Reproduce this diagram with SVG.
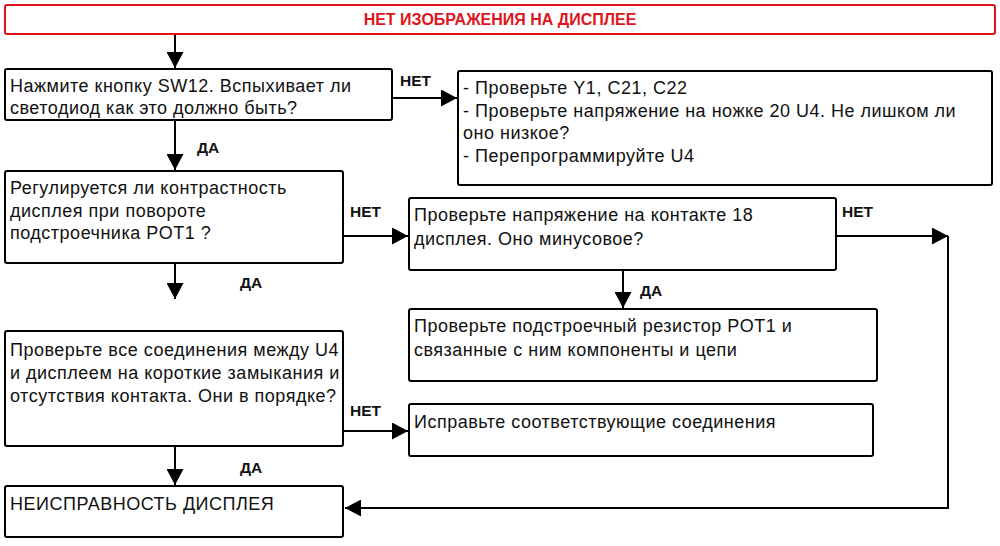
<svg xmlns="http://www.w3.org/2000/svg" width="1000" height="546" viewBox="0 0 1000 546">
<style>
.box{fill:#fff;stroke:#000;stroke-width:2}
.t{font-family:"Liberation Sans",Arial,sans-serif;font-size:18px;letter-spacing:0.5px;fill:#111}
.lbl{font-family:"Liberation Sans",Arial,sans-serif;font-size:15.5px;font-weight:bold;fill:#111}
.c{stroke:#000;stroke-width:2;fill:none}
</style>
<defs>
<marker id="ah" viewBox="0 0 16 17" refX="16" refY="8.5" markerWidth="16" markerHeight="17" markerUnits="userSpaceOnUse" orient="auto">
<path d="M0,0 L16,8.5 L0,17 z" fill="#000"/>
</marker>
</defs>
<rect width="1000" height="546" fill="#fff"/>
<g id="connectors">
<line class="c" x1="175" y1="35" x2="175" y2="68" marker-end="url(#ah)"/>
<line class="c" x1="392" y1="98" x2="457" y2="98" marker-end="url(#ah)"/>
<line class="c" x1="175" y1="120" x2="175" y2="170" marker-end="url(#ah)"/>
<line class="c" x1="343" y1="236" x2="408" y2="236" marker-end="url(#ah)"/>
<line class="c" x1="836" y1="236" x2="948" y2="236" marker-end="url(#ah)"/>
<polyline class="c" points="948,236 948,508 345,508" marker-end="url(#ah)"/>
<line class="c" x1="175" y1="263" x2="175" y2="299" marker-end="url(#ah)"/>
<line class="c" x1="623" y1="270" x2="623" y2="308" marker-end="url(#ah)"/>
<line class="c" x1="343" y1="431" x2="408" y2="431" marker-end="url(#ah)"/>
<line class="c" x1="175" y1="446" x2="175" y2="485" marker-end="url(#ah)"/>
<text class="lbl" x="400" y="86">НЕТ</text>
<text class="lbl" x="197" y="153">ДА</text>
<text class="lbl" x="350" y="217">НЕТ</text>
<text class="lbl" x="842" y="217">НЕТ</text>
<text class="lbl" x="240" y="288">ДА</text>
<text class="lbl" x="640" y="296">ДА</text>
<text class="lbl" x="350" y="416">НЕТ</text>
<text class="lbl" x="240" y="473">ДА</text>
</g>
<g id="title">
<rect x="5" y="5" width="990" height="29" rx="2" fill="#fff" stroke="#e0151b" stroke-width="2"/>
<text x="500" y="25" text-anchor="middle" font-family="Liberation Sans,Arial,sans-serif" font-size="16" font-weight="bold" fill="#e0151b">НЕТ ИЗОБРАЖЕНИЯ НА ДИСПЛЕЕ</text>
</g>
<g id="n1">
<rect class="box" x="5" y="69" width="387" height="51" rx="2"/>
<text class="t" x="10" y="92">Нажмите кнопку SW12. Вспыхивает ли</text>
<text class="t" x="10" y="114">светодиод как это должно быть?</text>
</g>
<g id="n2">
<rect class="box" x="458" y="71" width="534" height="114" rx="2"/>
<text class="t" x="463" y="94">- Проверьте Y1, C21, C22</text>
<text class="t" x="463" y="117">- Проверьте напряжение на ножке 20 U4. Не лишком ли</text>
<text class="t" x="463" y="139">оно низкое?</text>
<text class="t" x="463" y="162">- Перепрограммируйте U4</text>
</g>
<g id="n3">
<rect class="box" x="5" y="171" width="338" height="92" rx="2"/>
<text class="t" x="10" y="194">Регулируется ли контрастность</text>
<text class="t" x="10" y="217">дисплея при повороте</text>
<text class="t" x="10" y="239">подстроечника POT1 ?</text>
</g>
<g id="n4">
<rect class="box" x="409" y="198" width="427" height="72" rx="2"/>
<text class="t" x="414" y="221">Проверьте напряжение на контакте 18</text>
<text class="t" x="414" y="245">дисплея. Оно минусовое?</text>
</g>
<g id="n5">
<rect class="box" x="409" y="309" width="468" height="72" rx="2"/>
<text class="t" x="414" y="332">Проверьте подстроечный резистор POT1 и</text>
<text class="t" x="414" y="356">связанные с ним компоненты и цепи</text>
</g>
<g id="n6">
<rect class="box" x="5" y="331" width="338" height="115" rx="2"/>
<text class="t" x="10" y="356">Проверьте все соединения между U4</text>
<text class="t" x="10" y="379">и дисплеем на короткие замыкания и</text>
<text class="t" x="10" y="402">отсутствия контакта. Они в порядке?</text>
</g>
<g id="n7">
<rect class="box" x="409" y="404" width="464" height="52" rx="2"/>
<text class="t" x="414" y="428">Исправьте соответствующие соединения</text>
</g>
<g id="n8">
<rect class="box" x="5" y="486" width="338" height="51" rx="2"/>
<text class="t" x="10" y="510">НЕИСПРАВНОСТЬ ДИСПЛЕЯ</text>
</g>
</svg>
